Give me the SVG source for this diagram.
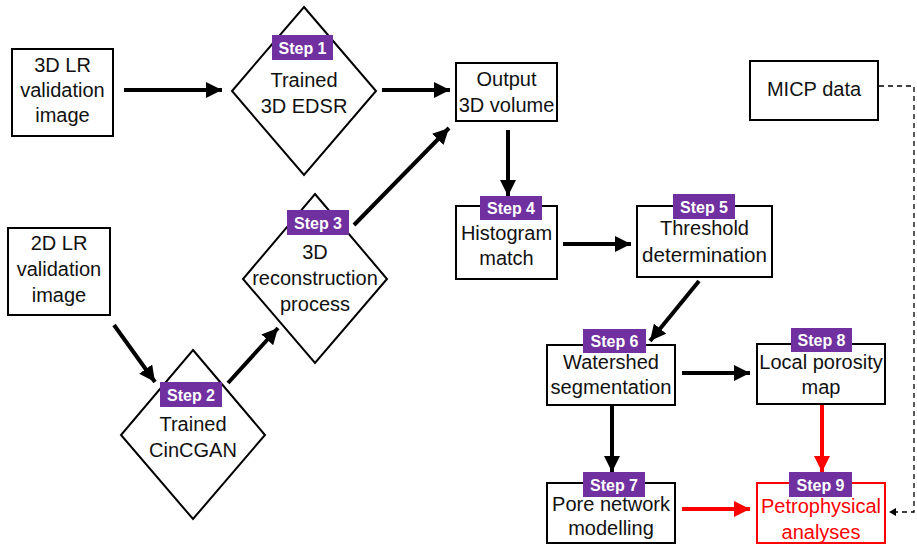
<svg xmlns="http://www.w3.org/2000/svg" width="917" height="546" viewBox="0 0 917 546">
<style>
.box{fill:#fff;stroke:#000;stroke-width:2}
.red{fill:#fff;stroke:#f00;stroke-width:2}
.t{font-family:"Liberation Sans",Arial,sans-serif;font-size:20px;fill:#111;text-anchor:middle}
.tr{fill:#f00}
.tag{fill:#7030A0}
.tt{font-family:"Liberation Sans",Arial,sans-serif;font-size:16px;font-weight:bold;fill:#fff;text-anchor:middle}
.a{stroke:#000;stroke-width:4;fill:none}
.ar{stroke:#f00;stroke-width:4;fill:none}
.d{stroke:#000;stroke-width:1.3;fill:none;stroke-dasharray:5 4}
</style>
<defs>
<marker id="hb" markerUnits="userSpaceOnUse" markerWidth="18" markerHeight="16" refX="16" refY="8" orient="auto"><path d="M0,0 L16,8 L0,16 Z" fill="#000"/></marker>
<marker id="hr" markerUnits="userSpaceOnUse" markerWidth="18" markerHeight="16" refX="16" refY="8" orient="auto"><path d="M0,0 L16,8 L0,16 Z" fill="#f00"/></marker>
<marker id="hd" markerUnits="userSpaceOnUse" markerWidth="8" markerHeight="8" refX="7" refY="4" orient="auto"><path d="M0,0 L7,4 L0,8 Z" fill="#000"/></marker>
</defs>

<g id="connectors">
<line class="a" x1="124" y1="90" x2="222" y2="90" marker-end="url(#hb)"/>
<line class="a" x1="382" y1="90" x2="450" y2="90" marker-end="url(#hb)"/>
<line class="a" x1="354" y1="225" x2="449" y2="128" marker-end="url(#hb)"/>
<line class="a" x1="114" y1="325" x2="155" y2="382" marker-end="url(#hb)"/>
<line class="a" x1="228" y1="383" x2="278" y2="328" marker-end="url(#hb)"/>
<line class="a" x1="508" y1="130" x2="508" y2="196" marker-end="url(#hb)"/>
<line class="a" x1="563" y1="244" x2="631" y2="244" marker-end="url(#hb)"/>
<line class="a" x1="699" y1="281" x2="650" y2="341" marker-end="url(#hb)"/>
<line class="a" x1="682" y1="373" x2="750" y2="373" marker-end="url(#hb)"/>
<line class="a" x1="612" y1="405" x2="612" y2="472" marker-end="url(#hb)"/>
<line class="ar" x1="822" y1="405" x2="822" y2="472" marker-end="url(#hr)"/>
<line class="ar" x1="682" y1="509" x2="750" y2="509" marker-end="url(#hr)"/>
<polyline class="d" points="879,86 914,86 914,512 889,512" marker-end="url(#hd)"/>
</g>

<g id="n3dlr">
<rect class="box" x="12" y="49" width="101" height="87"/>
<text class="t" x="62.5" y="72">3D LR</text>
<text class="t" x="62.5" y="97">validation</text>
<text class="t" x="62.5" y="122">image</text>
</g>

<g id="step1">
<polygon class="box" points="304,7 376,91 304,175 232,91"/>
<rect class="tag" x="272" y="35" width="61" height="25"/>
<text class="tt" x="302.5" y="53.5">Step 1</text>
<text class="t" x="304" y="87">Trained</text>
<text class="t" x="304" y="113">3D EDSR</text>
</g>

<g id="output">
<rect class="box" x="456" y="63" width="101" height="58"/>
<text class="t" x="506.5" y="86">Output</text>
<text class="t" x="506.5" y="112">3D volume</text>
</g>

<g id="micp">
<rect class="box" x="750" y="61" width="128" height="59"/>
<text class="t" x="814" y="96">MICP data</text>
</g>

<g id="n2dlr">
<rect class="box" x="8" y="228" width="102" height="87"/>
<text class="t" x="59" y="250">2D LR</text>
<text class="t" x="59" y="276">validation</text>
<text class="t" x="59" y="302">image</text>
</g>

<g id="step2">
<polygon class="box" points="193,350 265,435 193,519 121,435"/>
<rect class="tag" x="160" y="382" width="62" height="25"/>
<text class="tt" x="191" y="400.5">Step 2</text>
<text class="t" x="193" y="431">Trained</text>
<text class="t" x="193" y="457">CinCGAN</text>
</g>

<g id="step3">
<polygon class="box" points="315,194 387,279 315,363 243,279"/>
<rect class="tag" x="287" y="210" width="62" height="25"/>
<text class="tt" x="318" y="228.5">Step 3</text>
<text class="t" x="315" y="259">3D</text>
<text class="t" x="315" y="285">reconstruction</text>
<text class="t" x="315" y="311">process</text>
</g>

<g id="step4">
<rect class="box" x="456" y="206" width="101" height="73"/>
<rect class="tag" x="480" y="196" width="62" height="24"/>
<text class="tt" x="511" y="214">Step 4</text>
<text class="t" x="506.5" y="240">Histogram</text>
<text class="t" x="506.5" y="265">match</text>
</g>

<g id="step5">
<rect class="box" x="637" y="206" width="135" height="71"/>
<rect class="tag" x="673" y="194" width="62" height="25"/>
<text class="tt" x="704" y="212.5">Step 5</text>
<text class="t" x="704.5" y="235">Threshold</text>
<text class="t" x="704.5" y="262" textLength="125" lengthAdjust="spacingAndGlyphs">determination</text>
</g>

<g id="step6">
<rect class="box" x="547" y="345" width="128" height="60"/>
<rect class="tag" x="583" y="329" width="63" height="24"/>
<text class="tt" x="614.5" y="347">Step 6</text>
<text class="t" x="611" y="369">Watershed</text>
<text class="t" x="611" y="394" textLength="121" lengthAdjust="spacingAndGlyphs">segmentation</text>
</g>

<g id="step8">
<rect class="box" x="757" y="344" width="128" height="60"/>
<rect class="tag" x="791" y="328" width="61" height="24"/>
<text class="tt" x="821.5" y="346">Step 8</text>
<text class="t" x="821" y="369">Local porosity</text>
<text class="t" x="821" y="394">map</text>
</g>

<g id="step7">
<rect class="box" x="547" y="483" width="128" height="60"/>
<rect class="tag" x="583" y="472" width="62" height="25"/>
<text class="tt" x="614" y="490.5">Step 7</text>
<text class="t" x="611" y="511">Pore network</text>
<text class="t" x="611" y="535">modelling</text>
</g>

<g id="step9">
<rect class="red" x="757" y="483" width="128" height="60"/>
<rect class="tag" x="789" y="472" width="63" height="25"/>
<text class="tt" x="820.5" y="490.5">Step 9</text>
<text class="t tr" x="821" y="513">Petrophysical</text>
<text class="t tr" x="821" y="539">analyses</text>
</g>
</svg>
